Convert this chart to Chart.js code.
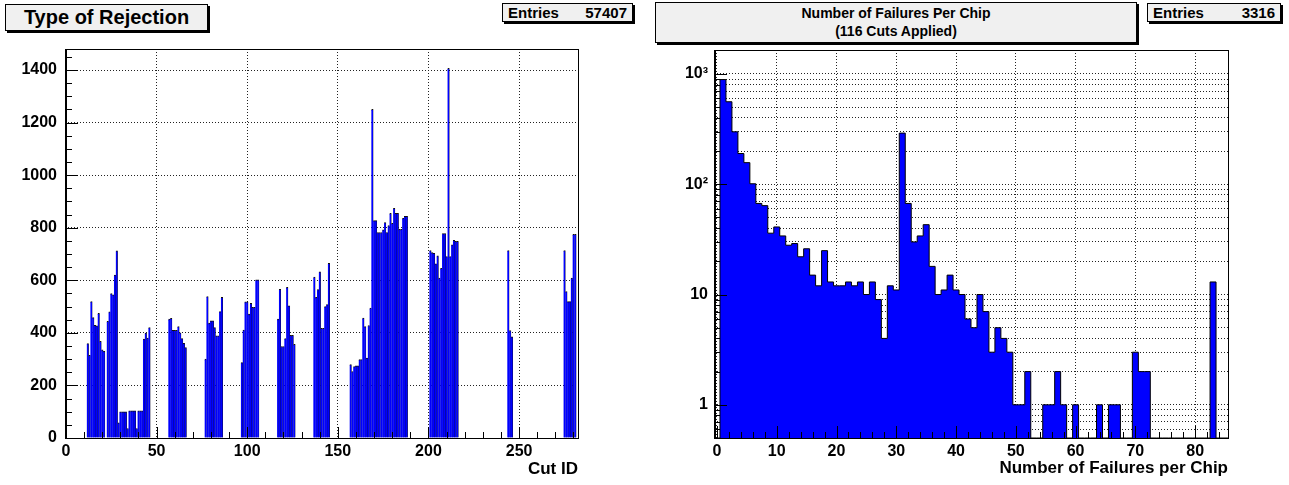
<!DOCTYPE html>
<html>
<head>
<meta charset="utf-8">
<script src="https://cdn.jsdelivr.net/npm/chart.js@4.4.1/dist/chart.umd.min.js"></script>
<style>
  body { margin: 0; background: #fff; width: 1289px; height: 485px; overflow: hidden; position: relative;
         font-family: "Liberation Sans", Arial, sans-serif; font-weight: bold; color: #000; }
  canvas { position: absolute; top: 0; }
  .pave { position: absolute; box-sizing: border-box; background: #f0f0f0; border: 1px solid #000;
          box-shadow: 2px 2px 0 #000; }
  .title { display: flex; flex-direction: column; justify-content: center; align-items: center; line-height: 1.25; }
  .stats { display: flex; justify-content: space-between; align-items: center; padding: 0 5px; font-size: 15px; }
</style>
</head>
<body>
<div class="pave title" style="left:5px; top:4px; width:203px; height:27px; font-size:20px;">Type of Rejection</div>
<div class="pave stats" style="left:502px; top:3px; width:131px; height:19px;"><span>Entries</span><span>57407</span></div>
<div class="pave title" style="left:655px; top:2px; width:482px; height:41px; font-size:14px;">
  <div>Number of Failures Per Chip</div><div>(116 Cuts Applied)</div>
</div>
<div class="pave stats" style="left:1147px; top:3px; width:134px; height:19px;"><span>Entries</span><span>3316</span></div>

<canvas id="rejections" width="640" height="485" style="left:0px;"></canvas>
<canvas id="failures" width="649" height="485" style="left:640px;"></canvas>

<script>
// ---- left: type of rejection (only non-empty cut ids listed)
const cutIds = [
  12, 13, 14, 15, 16, 17, 18, 19, 20, 21, 23, 24, 25, 26, 27, 28, 29, 30, 31, 32, 33, 34, 35, 36, 37, 38, 39, 40, 41, 42, 43, 44, 45, 46,
  57, 58, 59, 60, 61, 62, 63, 64, 65, 66,
  77, 78, 79, 80, 81, 82, 83, 84, 85, 86,
  97, 98, 99, 100, 101, 102, 103, 104, 105, 106,
  117, 118, 119, 120, 121, 122, 123, 124, 125, 126,
  137, 138, 139, 140, 141, 142, 143, 144, 145,
  157, 158, 159, 160, 161, 162, 163, 164, 165, 166, 167, 168, 169, 170, 171, 172, 173, 174, 175, 176, 177, 178, 179, 180, 181, 182, 183, 184, 185, 186, 187, 188,
  201, 202, 203, 204, 205, 206, 207, 208, 209, 210, 211, 212, 213, 214, 215, 216,
  244, 245, 246,
  275, 276, 277, 278, 279, 280, 281
];
const rejections = [
  359, 315, 519, 458, 429, 427, 474, 368, 335, 330, 444, 480, 549, 545, 620, 712, 58, 100, 100, 100, 100, 36, 103, 103, 103, 103, 36, 103, 103, 103, 376, 399, 380, 420,
  452, 455, 410, 410, 410, 424, 400, 378, 360, 344,
  300, 538, 437, 446, 446, 420, 389, 389, 481, 535,
  287, 411, 518, 518, 471, 512, 497, 497, 602, 602,
  452, 566, 348, 348, 378, 573, 503, 391, 391, 356,
  612, 535, 565, 632, 417, 417, 500, 508, 665,
  279, 253, 272, 275, 275, 298, 298, 456, 424, 304, 428, 494, 1250, 827, 827, 782, 782, 782, 792, 820, 782, 808, 855, 817, 874, 855, 855, 794, 794, 836, 843, 843,
  713, 705, 703, 663, 693, 608, 646, 778, 778, 690, 1406, 690, 735, 752, 748, 748,
  713, 409, 385,
  713, 557, 519, 519, 608, 775, 775
];
const leftXTicks = [0, 50, 100, 150, 200, 250];
const leftYTicks = [0, 200, 400, 600, 800, 1000, 1200, 1400];

// ---- right: number of failures per chip, index = number of failures
const failureCounts = [
  0, 890, 560, 299, 190, 157, 101, 67, 64, 36,
  41, 34, 28, 29, 22, 26, 15, 12, 25, 13,
  12, 12, 13, 12, 13, 10, 13, 9, 4, 12,
  11, 291, 67, 30, 34, 43, 18, 10, 11, 15,
  11, 10, 6, 5, 10, 7, 3, 5, 4, 3,
  1, 1, 2, 0, 0, 1, 1, 2, 1, 0,
  1, 0, 0, 0, 1, 0, 1, 1, 0, 0,
  3, 2, 2, 0, 0, 0, 0, 0, 0, 0,
  0, 0, 0, 13, 0, 0
];
const rightXTicks = [0, 10, 20, 30, 40, 50, 60, 70, 80];
const rightYTicks = [1, 10, 100, 1000];
const rightYTickLabels = ['1', '10', '10\u00b2', '10\u00b3'];
const rightYMin = 0.5;
const rightYMax = 1650;

const tickFont = { family: '"Liberation Sans", Arial, sans-serif', weight: 'bold', size: 16 };
const titleFont = { family: '"Liberation Sans", Arial, sans-serif', weight: 'bold', size: 17 };

function range(from, to, step) {
  const out = [];
  for (let v = from; v <= to + 1e-9; v += step) out.push(+v.toFixed(6));
  return out;
}

// ROOT style frame with tick marks pointing into the plot
function rootFrame(spec) {
  return {
    id: 'rootFrame',
    afterDatasetsDraw(chart) {
      const { ctx, chartArea: area, scales: { x, y } } = chart;
      const snap = v => Math.round(v) + 0.5;
      ctx.save();
      ctx.strokeStyle = '#000';
      ctx.lineWidth = 1;
      ctx.beginPath();
      const xTick = (v, len) => {
        const p = snap(x.getPixelForValue(v));
        ctx.moveTo(p, area.bottom);
        ctx.lineTo(p, area.bottom - len);
      };
      const yTick = (v, len) => {
        const p = snap(y.getPixelForValue(v));
        ctx.moveTo(area.left, p);
        ctx.lineTo(area.left + len, p);
      };
      spec.xMinor.forEach(v => xTick(v, spec.xMinorLen));
      spec.xMajor.forEach(v => xTick(v, spec.xMajorLen));
      spec.yMinor.forEach(v => yTick(v, spec.yMinorLen));
      spec.yMajor.forEach(v => yTick(v, spec.yMajorLen));
      ctx.stroke();
      ctx.strokeRect(snap(area.left), snap(area.top), Math.round(area.right - area.left), Math.round(area.bottom - area.top));
      // axis lines a bit heavier, as in the original
      ctx.beginPath();
      ctx.moveTo(snap(area.left) + 1, area.top);
      ctx.lineTo(snap(area.left) + 1, area.bottom);
      ctx.stroke();
      ctx.restore();
    }
  };
}

const gridStyle = { color: '#222', lineWidth: 1, drawTicks: false, offset: false };
const borderStyle = { display: false, dash: [1, 2] };

new Chart(document.getElementById('rejections'), {
  type: 'bar',
  data: {
    datasets: [{
      data: cutIds.map((id, i) => ({ x: id, y: rejections[i] })),
      backgroundColor: '#0000ff',
      borderColor: '#111',
      borderWidth: { top: 1, right: 0.45, left: 0, bottom: 0 },
      categoryPercentage: 1,
      barPercentage: 1
    }]
  },
  options: {
    responsive: false,
    animation: false,
    events: [],
    layout: { padding: { left: 0, right: 62, top: 49, bottom: 0 } },
    plugins: { legend: { display: false }, tooltip: { enabled: false } },
    scales: {
      x: {
        type: 'linear',
        min: -0.5,
        max: 282.5,
        offset: false,
        afterBuildTicks: axis => { axis.ticks = leftXTicks.map(v => ({ value: v })); },
        afterFit: axis => { axis.height = 47; },
        ticks: { font: tickFont, color: '#000', padding: 4, maxRotation: 0, autoSkip: false, callback: v => String(v) },
        grid: gridStyle,
        border: borderStyle,
        title: { display: true, text: 'Cut ID', align: 'end', color: '#000', font: titleFont, padding: { top: 0, bottom: 5 } }
      },
      y: {
        min: 0,
        max: 1480,
        afterBuildTicks: axis => { axis.ticks = leftYTicks.map(v => ({ value: v })); },
        afterFit: axis => { axis.width = 65; },
        ticks: { font: tickFont, color: '#000', padding: 8, autoSkip: false, callback: v => String(v) },
        grid: gridStyle,
        border: borderStyle
      }
    }
  },
  plugins: [rootFrame({
    xMajor: leftXTicks, xMinor: range(0, 280, 10), xMajorLen: 11, xMinorLen: 6,
    yMajor: leftYTicks, yMinor: range(0, 1450, 50), yMajorLen: 13, yMinorLen: 7
  })]
});

// bin edges -> stepped outline; empty bins sit on the axis floor
const stepPoints = failureCounts.map((c, n) => ({ x: n - 0.5, y: Math.max(c, rightYMin) }));
stepPoints.push({ x: failureCounts.length - 0.5, y: Math.max(failureCounts[failureCounts.length - 1], rightYMin) });

const logMinor = [];
[0.1, 1, 10, 100].forEach(d => {
  for (let k = 2; k <= 9; k++) {
    const v = +(k * d).toFixed(6);
    if (v > rightYMin && v < rightYMax) logMinor.push(v);
  }
});
const logGridTicks = rightYTicks.concat(logMinor).sort((a, b) => a - b);

new Chart(document.getElementById('failures'), {
  type: 'line',
  data: {
    datasets: [{
      data: stepPoints,
      stepped: true,
      fill: 'start',
      backgroundColor: '#0000ff',
      borderColor: '#000',
      borderWidth: 1,
      pointRadius: 0
    }]
  },
  options: {
    responsive: false,
    animation: false,
    events: [],
    layout: { padding: { left: 0, right: 61, top: 50, bottom: 0 } },
    plugins: { legend: { display: false }, tooltip: { enabled: false } },
    scales: {
      x: {
        type: 'linear',
        min: -0.5,
        max: 85.5,
        offset: false,
        afterBuildTicks: axis => { axis.ticks = rightXTicks.map(v => ({ value: v })); },
        afterFit: axis => { axis.height = 47; },
        ticks: { font: tickFont, color: '#000', padding: 4, maxRotation: 0, autoSkip: false, callback: v => String(v) },
        grid: gridStyle,
        border: borderStyle,
        title: { display: true, text: 'Number of Failures per Chip', align: 'end', color: '#000', font: titleFont, padding: { top: 0, bottom: 6 } }
      },
      y: {
        type: 'logarithmic',
        min: rightYMin,
        max: rightYMax,
        afterBuildTicks: axis => { axis.ticks = logGridTicks.map(v => ({ value: v })); },
        afterFit: axis => { axis.width = 74; },
        ticks: {
          font: tickFont, color: '#000', padding: 6, autoSkip: false,
          callback: v => {
            const i = rightYTicks.indexOf(v);
            return i >= 0 ? rightYTickLabels[i] : '';
          }
        },
        grid: gridStyle,
        border: borderStyle
      }
    }
  },
  plugins: [rootFrame({
    xMajor: rightXTicks, xMinor: range(0, 84, 2), xMajorLen: 12, xMinorLen: 6,
    yMajor: rightYTicks, yMinor: logMinor, yMajorLen: 13, yMinorLen: 6
  })]
});
</script>
</body>
</html>
